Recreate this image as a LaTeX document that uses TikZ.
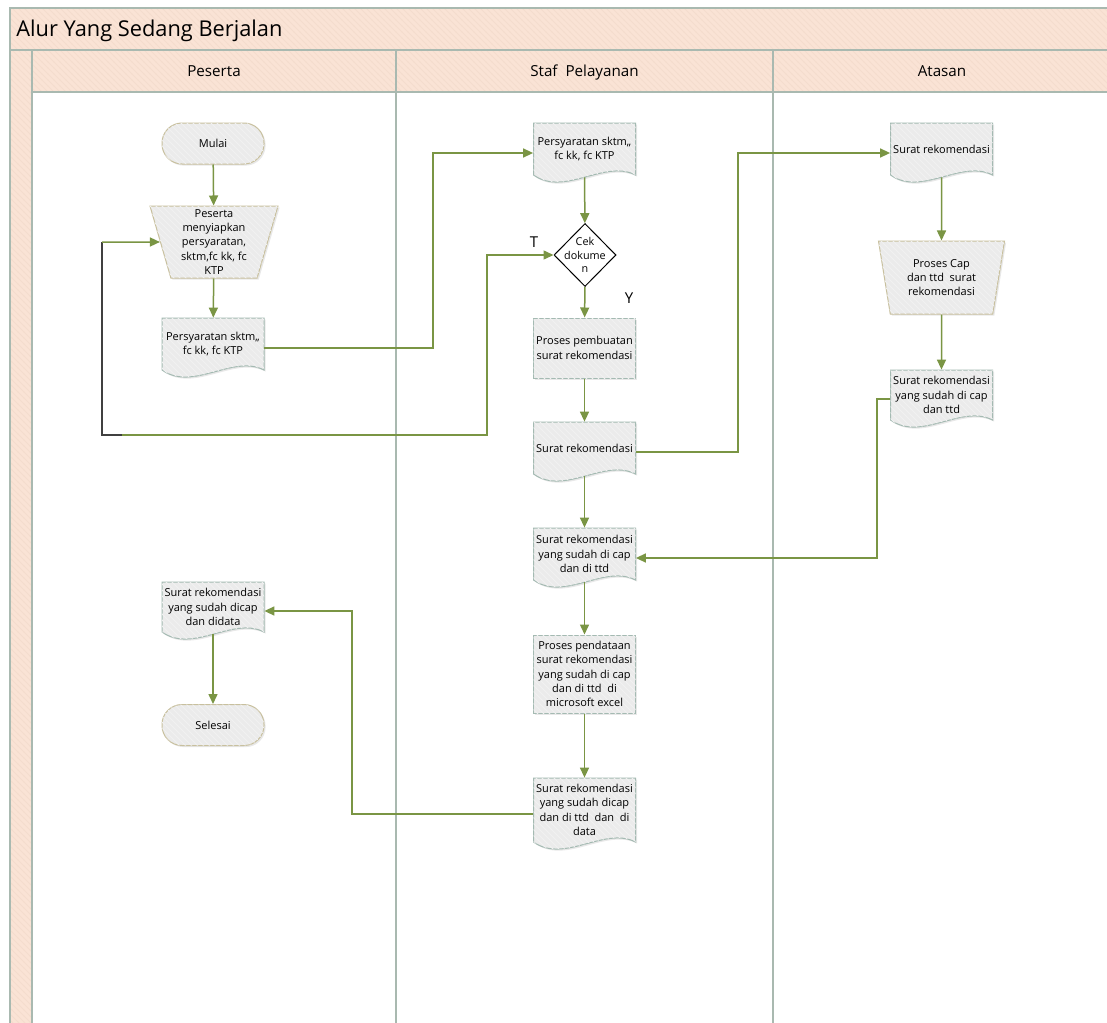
\documentclass[tikz,border=0pt]{standalone}
\usepackage{fontspec}
\setmainfont{Open Sans}
\usetikzlibrary{shapes.geometric,arrows.meta,patterns,shadows}

\definecolor{poolfill}{HTML}{FAE3D5}
\definecolor{poolhatch}{HTML}{F4DCCD}
\definecolor{laneline}{HTML}{A9B9B0}
\definecolor{boxfill}{HTML}{EBEBEB}
\definecolor{boxhatch}{HTML}{F1F1F1}
\definecolor{boxline}{HTML}{A4BAB2}
\definecolor{tanline}{HTML}{C8C09E}
\definecolor{flowgreen}{HTML}{7A9544}

\newcommand{\boxfont}{\fontsize{5.5}{7.2}\selectfont}

% document shape: name, x, top, height, text
\newcommand{\docbox}[5]{%
  \path[docshape] (#2-51,#3) -- (#2+51,#3) -- (#2+51,#3+#4-8)
    .. controls (#2+20,#3+#4-24) and (#2-20,#3+#4+14) .. (#2-51,#3+#4-8) -- cycle;
  \node[docarea, minimum height=#4*0.5pt, label={[doctext]center:{#5}}] (#1) at (#2,#3+#4/2) {};
}

\begin{document}
\begin{tikzpicture}[
            x=0.5pt, y=-0.5pt,
            pool/.style={fill=poolfill, postaction={pattern=north west lines, pattern color=poolhatch}},
            laneline/.style={draw=laneline, line width=1.1pt},
            title/.style={anchor=base west, inner sep=0pt, font=\fontsize{10.9}{13}\selectfont},
            lanehead/.style={anchor=base, inner sep=0pt, font=\fontsize{7.6}{9}\selectfont},
            shapefill/.style={fill=boxfill, postaction={pattern=north west lines, pattern color=boxhatch},
                              drop shadow={shadow xshift=0.8pt, shadow yshift=-0.8pt, opacity=0.18}},
            docshape/.style={shapefill, draw=boxline, line width=0.5pt},
            docarea/.style={rectangle, minimum width=51pt, inner sep=0pt},
            doctext/.style={font=\boxfont, align=center, inner sep=0pt, yshift=2pt},
            proc/.style={rectangle, shapefill, draw=boxline, line width=0.5pt, minimum width=51pt,
                         inner sep=0pt, font=\boxfont, align=center},
            manual/.style={trapezium, shape border rotate=180, trapezium stretches body=true,
                           shapefill, draw=tanline, line width=0.5pt, inner sep=0pt,
                           font=\boxfont, align=center},
            term/.style={rectangle, rounded corners=10pt, shapefill, draw=tanline, line width=0.5pt,
                         minimum width=51pt, minimum height=20.5pt, font=\boxfont},
            decision/.style={diamond, draw=black, fill=white, line width=0.5pt,
                             minimum width=31pt, minimum height=31.5pt, inner sep=0pt},
            cektext/.style={font=\fontsize{5.4}{6.8}\selectfont, align=center, inner sep=0pt},
            answer/.style={inner sep=0pt, font=\fontsize{7.5}{9}\selectfont},
            flow/.style={draw=flowgreen, line width=0.75pt, -{Triangle[length=5pt,width=4.5pt]}},
            fromdoc/.style={shorten <=-3pt},
            backline/.style={draw=black!75, line width=0.75pt}
          ]
          \useasboundingbox (0,0) rectangle (1107,1022);
          \clip (0,0) rectangle (1107,1022);
          \fill[white] (0,0) rectangle (1107,1022);

          % pool and lanes
          \path[pool] (10,8) rectangle (1112,50);
          \path[pool] (10,50) rectangle (32,1030);
          \path[pool] (32,50) rectangle (1112,92);
          \draw[laneline] (10,1030) -- (10,8) -- (1112,8);
          \draw[laneline] (10,50) -- (1112,50);
          \draw[laneline] (32,92) -- (1112,92);
          \foreach \x in {32,396,773,1111}
            \draw[laneline] (\x,50) -- (\x,1030);

          \node[title] (judul) at (16,37) {Alur Yang Sedang Berjalan};
          \node[lanehead] (peserta) at (214,77) {Peserta};
          \node[lanehead] (staf) at (584.5,77) {Staf\ \ Pelayanan};
          \node[lanehead] (atasan) at (942,77) {Atasan};

          % Peserta
          \node[term] (mulai) at (213,143.5) {Mulai};
          \node[manual, minimum width=64pt, minimum height=36pt, trapezium angle=72.3] (siapkan) at (214,242)
            {Peserta\\menyiapkan\\persyaratan,\\sktm,fc kk, fc\\KTP};
          \docbox{syarat1}{213}{318}{60}{Persyaratan sktm,,\\fc kk, fc KTP}
          \docbox{didata}{213}{582}{58}{Surat rekomendasi\\yang sudah dicap\\dan didata}
          \node[term] (selesai) at (213,725) {Selesai};

          % Staf Pelayanan
          \docbox{syarat2}{584.5}{123}{60}{Persyaratan sktm,,\\fc kk, fc KTP}
          \node[decision] (cek) at (585,255) {};
          \node[cektext] (cektulisan) at (cek) {Cek\\dokume\\n};
          \node[proc, minimum height=30pt] (buat) at (584.5,348) {Proses pembuatan\\surat rekomendasi};
          \docbox{surat1}{584.5}{422}{60}{Surat rekomendasi}
          \docbox{ttd1}{584.5}{528}{60}{Surat rekomendasi\\yang sudah di cap\\dan di ttd}
          \node[proc, minimum height=39pt] (data) at (584.5,674)
            {Proses pendataan\\surat rekomendasi\\yang sudah di cap\\dan di ttd\ \ di\\microsoft excel};
          \docbox{final}{584.5}{778}{72}{Surat rekomendasi\\yang sudah dicap\\dan di ttd\ \ dan\ \ di\\data}

          % Atasan
          \docbox{surat2}{941.5}{123}{60}{Surat rekomendasi}
          \node[manual, minimum width=63pt, minimum height=36.5pt, trapezium angle=72.3] (cap) at (941.5,277.5)
            {Proses Cap\\dan ttd\ \ surat\\rekomendasi};
          \docbox{ttd2}{941.5}{370}{58}{Surat rekomendasi\\yang sudah di cap\\dan ttd}

          \node[answer] (tidak) at (534,242) {T};
          \node[answer] (ya) at (629,298) {Y};

          % connectors
          \coordinate (tjoin) at (122,435);
          \coordinate (tcorner) at (102,242);
          \draw[backline] (tjoin) -| (tcorner);
          \begin{scope}[flow]
          \draw (mulai) -- (siapkan);
          \draw (siapkan) -- (syarat1);
          \draw (syarat1.east) -| (433,250) |- (syarat2.west);
          \draw[fromdoc] (syarat2) -- (cek);
          \draw (cek) -- (buat);
          \draw (tjoin) -| (487,300) |- (cek.west);
          \draw (tcorner) -- (siapkan.west);
          \draw (buat) -- (surat1);
          \draw (surat1.east) -| (738,300) |- (surat2.west);
          \draw[fromdoc] (surat2) -- (cap);
          \draw (cap) -- (ttd2);
          \draw (ttd2.west) -| (877,480) |- (ttd1.east);
          \draw[fromdoc] (surat1) -- (ttd1);
          \draw[fromdoc] (ttd1) -- (data);
          \draw (data) -- (final);
          \draw (final.west) -| (352,700) |- (didata.east);
          \draw[fromdoc] (didata) -- (selesai);
          \end{scope}
          \end{tikzpicture}
\end{document}
